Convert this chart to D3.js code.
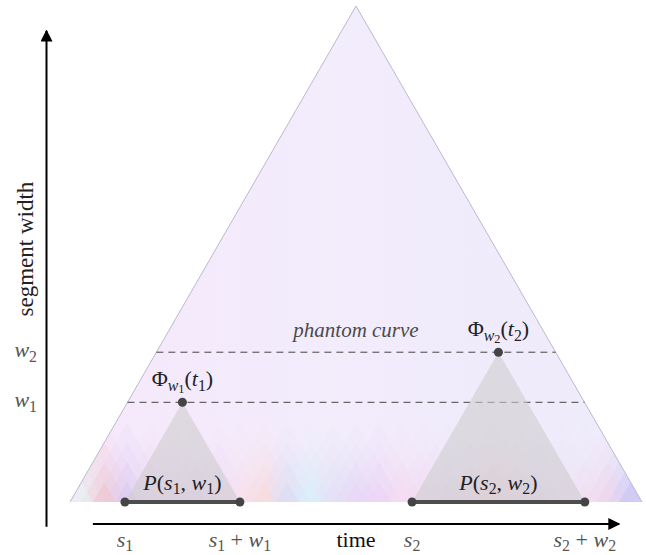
<!DOCTYPE html>
<html>
<head>
<meta charset="utf-8">
<script src="https://cdn.jsdelivr.net/npm/d3@7"></script>
<style>
  body { margin: 0; background: #fff; }
</style>
</head>
<body>
<div id="chart"></div>
<script>
// time span of the whole series (triangle base) and segment positions
const timeDomain = [0, 100]
const widthDomain = [0, 100]
const segStarts = [9.6, 59.8]
const segWidths = [20.1, 30.2]
const segIds = ["1", "2"]

// colours of the pastel heat strip along the base, left to right (one per 4 time units)
const stripColors = [
    "#e4f6f6", "#f4c2c4", "#d2c8f8", "#f2d6f4", "#eed4f6",
    "#e8d4f8", "#f2d8f6", "#fae2f0", "#fddcd4", "#d6daf8",
    "#d8f4fb", "#e4def8", "#e6d4f8", "#eed0f6", "#f8dcf0",
    "#f4dcf2", "#eadaf6", "#f0d8ee", "#f6d0da", "#f2d6e4",
    "#e8d8f6", "#f0e0f6", "#f4e0f2", "#f4d4ea", "#c0c0f6"
]
const stripStep = 4

const serif = "'Liberation Serif', 'DejaVu Serif', 'Noto Serif', 'Times New Roman', Times, serif"

let dimensions = {
    width: 646,
    height: 555
}

const svg = d3.select("#chart")
    .append("svg")
    .attr("width", dimensions.width)
    .attr("height", dimensions.height)
    .attr("font-family", serif)

const xScale = d3.scaleLinear()
    .domain(timeDomain)
    .range([70, 642])

const yScale = d3.scaleLinear()
    .domain(widthDomain)
    .range([502, 6])

// triangle of all sub-segments of [s, s+w]
function tri(s, w) {
    return [[s, 0], [s + w / 2, w], [s + w, 0]]
}
const triLine = d3.line()
    .x(d => xScale(d[0]))
    .y(d => yScale(d[1]))

const T = timeDomain[1]

// background triangle
const defs = svg.append("defs")
const grad = defs.append("linearGradient")
    .attr("id", "bg")
    .attr("x1", "0").attr("x2", "1").attr("y1", "0").attr("y2", "0")
grad.append("stop").attr("offset", "0%").attr("stop-color", "#f6e8fb")
grad.append("stop").attr("offset", "45%").attr("stop-color", "#f2ecfb")
grad.append("stop").attr("offset", "100%").attr("stop-color", "#eeebfc")

defs.append("clipPath").attr("id", "bigclip")
    .append("path")
    .attr("d", triLine(tri(0, T)) + "Z")

svg.append("path")
    .attr("d", triLine(tri(0, T)) + "Z")
    .attr("fill", "url(#bg)")

// pastel strip: overlapping translucent triangles
const strip = svg.append("g").attr("clip-path", "url(#bigclip)")
const layers = [
    { w: 16, op: 0.1, off: -6 },
    { w: 12, op: 0.14, off: -4 },
    { w: 8, op: 0.22, off: -2 },
    { w: 4, op: 0.45, off: 0 }
]
layers.forEach(l => {
    strip.selectAll(null)
        .data(stripColors)
        .join("path")
        .attr("d", (c, i) => triLine(tri(i * stripStep + l.off, l.w)) + "Z")
        .attr("fill", c => c)
        .attr("opacity", l.op)
})

// outline of the big triangle (slanted edges only)
svg.append("path")
    .attr("d", triLine(tri(0, T)))
    .attr("fill", "none")
    .attr("stroke", "#bdb8cc")
    .attr("stroke-width", 1)

// dashed level lines across the big triangle
segWidths.forEach(w => {
    svg.append("line")
        .attr("x1", xScale(w / 2))
        .attr("x2", xScale(T - w / 2))
        .attr("y1", yScale(w))
        .attr("y2", yScale(w))
        .attr("stroke", "#444")
        .attr("stroke-width", 1)
        .attr("stroke-dasharray", "7,5")
})

// grey triangles of the two segments
svg.selectAll(".segtri")
    .data(segStarts)
    .join("path")
    .attr("class", "segtri")
    .attr("d", (s, i) => triLine(tri(s, segWidths[i])) + "Z")
    .attr("fill", "#cfcdcf")
    .attr("opacity", 0.6)

// segment bars
svg.selectAll(".segbar")
    .data(segStarts)
    .join("line")
    .attr("class", "segbar")
    .attr("x1", s => xScale(s))
    .attr("x2", (s, i) => xScale(s + segWidths[i]))
    .attr("y1", yScale(0))
    .attr("y2", yScale(0))
    .attr("stroke", "#4d4d4d")
    .attr("stroke-width", 4)

// end points and apex points
const pts = []
segStarts.forEach((s, i) => {
    const w = segWidths[i]
    pts.push([s, 0], [s + w, 0], [s + w / 2, w])
})
svg.selectAll(".pt")
    .data(pts)
    .join("circle")
    .attr("class", "pt")
    .attr("cx", d => xScale(d[0]))
    .attr("cy", d => yScale(d[1]))
    .attr("r", 4.5)
    .attr("fill", "#444")

// math text helper: parts = [text, italic?, level] (level 0 normal, 1 subscript, 2 sub-subscript)
const lvlShift = [0, 0.2, 0.32]
const lvlSize = [1, 0.72, 0.56]
function mathText(x, y, parts, anchor, size, color) {
    const t = svg.append("text")
        .attr("x", x)
        .attr("y", y)
        .attr("text-anchor", anchor)
        .attr("font-size", size)
        .attr("fill", color)
    let cur = 0
    parts.forEach(p => {
        const lvl = p[2] || 0
        const sp = t.append("tspan").text(p[0])
            .attr("font-size", size * lvlSize[lvl])
        if (p[1]) sp.attr("font-style", "italic")
        const dy = (lvlShift[lvl] - cur) * size
        if (dy !== 0) sp.attr("dy", dy)
        cur = lvlShift[lvl]
    })
    return t
}

// labels over segments and apex points
segStarts.forEach((s, i) => {
    const w = segWidths[i]
    const k = segIds[i]
    mathText(xScale(s + w / 2), yScale(0) - 12,
        [["P", 1], ["(", 0], ["s", 1], [k, 0, 1], [", ", 0], ["w", 1], [k, 0, 1], [")", 0]],
        "middle", 22, "#222")
    mathText(xScale(s + w / 2), yScale(w) - 16,
        [["Φ", 0], ["w", 1, 1], [k, 0, 2], ["(", 0], ["t", 1], [k, 0, 1], [")", 0]],
        "middle", 22, "#222")
})

svg.append("text")
    .attr("x", xScale(T / 2))
    .attr("y", yScale(segWidths[1]) - 15)
    .attr("text-anchor", "middle")
    .attr("font-size", 21)
    .attr("font-style", "italic")
    .attr("fill", "#4a4a4a")
    .text("phantom curve")

// axes with arrows
defs.append("marker")
    .attr("id", "arrow")
    .attr("viewBox", "0 0 10 10")
    .attr("refX", 9).attr("refY", 5)
    .attr("markerWidth", 6).attr("markerHeight", 6)
    .attr("markerUnits", "strokeWidth")
    .attr("orient", "auto")
    .append("path")
    .attr("d", "M0,0L10,5L0,10Z")
    .attr("fill", "#000")

svg.append("line")
    .attr("x1", 46.5).attr("x2", 46.5)
    .attr("y1", yScale(-5)).attr("y2", yScale(95))
    .attr("stroke", "#000").attr("stroke-width", 2)
    .attr("marker-end", "url(#arrow)")

svg.append("line")
    .attr("x1", xScale(4)).attr("x2", xScale(96))
    .attr("y1", 524).attr("y2", 524)
    .attr("stroke", "#000").attr("stroke-width", 2)
    .attr("marker-end", "url(#arrow)")

// y tick labels
segWidths.forEach((w, i) => {
    mathText(37, yScale(w) + 5, [["w", 1], [segIds[i], 0, 1]], "end", 22, "#555")
})

svg.append("text")
    .attr("transform", `translate(33, ${yScale(51)}) rotate(-90)`)
    .attr("text-anchor", "middle")
    .attr("font-size", 23)
    .attr("fill", "#222")
    .text("segment width")

// x tick labels
segStarts.forEach((s, i) => {
    const k = segIds[i]
    mathText(xScale(s), 547, [["s", 1], [k, 0, 1]], "middle", 22, "#555")
    mathText(xScale(s + segWidths[i]), 547,
        [["s", 1], [k, 0, 1], [" + ", 0], ["w", 1], [k, 0, 1]], "middle", 22, "#555")
})

svg.append("text")
    .attr("x", xScale(T / 2))
    .attr("y", 547)
    .attr("text-anchor", "middle")
    .attr("font-size", 22)
    .attr("fill", "#111")
    .text("time")
</script>
</body>
</html>
